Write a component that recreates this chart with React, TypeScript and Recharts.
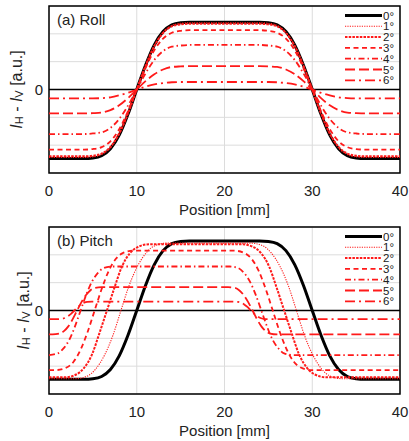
import { LineChart, Line, XAxis, YAxis, CartesianGrid, ReferenceLine, ReferenceArea, Legend } from 'recharts';

const FONT = '"Liberation Sans", Arial, sans-serif';
const RED = '#ff1a1a';

const xTicks = [0, 10, 20, 30, 40];
const yTicks = [-3, -2, -1, 0, 1, 2, 3];
const angles = ['0°', '1°', '2°', '3°', '4°', '5°', '6°'];

// (a) Roll - all angles share the same positions
const rollX = [0, 4, 5, 6, 7, 8, 9, 10, 11, 12, 13, 14, 15, 16, 20, 24, 25, 26, 27, 28, 29, 30, 31, 32, 33, 34, 35, 36, 40];
const roll0 = [-2.48, -2.48, -2.46, -2.38, -2.13, -1.64, -0.89, 0, 0.87, 1.6, 2.08, 2.32, 2.4, 2.42, 2.42, 2.42, 2.4, 2.32, 2.08, 1.6, 0.87, 0, -0.89, -1.64, -2.13, -2.38, -2.46, -2.48, -2.48];
const roll1 = [-2.44, -2.44, -2.42, -2.34, -2.1, -1.61, -0.88, 0, 0.86, 1.58, 2.06, 2.3, 2.38, 2.4, 2.4, 2.4, 2.38, 2.3, 2.06, 1.58, 0.86, 0, -0.88, -1.61, -2.1, -2.34, -2.42, -2.44, -2.44];
const roll2 = [-2.4, -2.4, -2.38, -2.3, -2.06, -1.58, -0.86, 0, 0.85, 1.56, 2.03, 2.27, 2.34, 2.36, 2.36, 2.36, 2.34, 2.27, 2.03, 1.56, 0.85, 0, -0.86, -1.58, -2.06, -2.3, -2.38, -2.4, -2.4];
const roll3 = [-2.16, -2.16, -2.14, -2.07, -1.86, -1.43, -0.78, 0, 0.77, 1.41, 1.83, 2.04, 2.11, 2.13, 2.13, 2.13, 2.11, 2.04, 1.83, 1.41, 0.77, 0, -0.78, -1.43, -1.86, -2.07, -2.14, -2.16, -2.16];
const roll4 = [-1.6, -1.6, -1.58, -1.54, -1.38, -1.06, -0.58, 0, 0.58, 1.06, 1.38, 1.54, 1.58, 1.6, 1.6, 1.6, 1.58, 1.54, 1.38, 1.06, 0.58, 0, -0.58, -1.06, -1.38, -1.54, -1.58, -1.6, -1.6];
const roll5 = [-0.86, -0.86, -0.85, -0.83, -0.74, -0.57, -0.31, 0, 0.3, 0.55, 0.72, 0.81, 0.83, 0.84, 0.84, 0.84, 0.83, 0.81, 0.72, 0.55, 0.3, 0, -0.31, -0.57, -0.74, -0.83, -0.85, -0.86, -0.86];
const roll6 = [-0.32, -0.32, -0.32, -0.31, -0.28, -0.21, -0.12, 0, 0.1, 0.18, 0.23, 0.26, 0.27, 0.27, 0.27, 0.27, 0.27, 0.26, 0.23, 0.18, 0.1, 0, -0.12, -0.21, -0.28, -0.31, -0.32, -0.32, -0.32];

// (b) Pitch - each angle has its own positions
const pitch0X = rollX;
const pitch0Y = [-2.47, -2.47, -2.45, -2.37, -2.12, -1.63, -0.89, 0, 0.9, 1.65, 2.15, 2.4, 2.48, 2.5, 2.5, 2.5, 2.48, 2.4, 2.15, 1.65, 0.9, 0, -0.89, -1.63, -2.12, -2.37, -2.45, -2.47, -2.47];
const pitch1X = [0, 3.0, 4.4, 5.3, 6.3, 7.3, 8.2, 9.1, 10.1, 11.1, 12.0, 13.4, 23.0, 24.4, 25.3, 26.3, 27.3, 28.2, 29.1, 30.1, 31.1, 32.0, 33.4, 40];
const pitch1Y = [-2.45, -2.45, -2.35, -2.11, -1.62, -0.88, 0, 0.87, 1.6, 2.08, 2.32, 2.42, 2.42, 2.32, 2.08, 1.6, 0.87, 0, -0.88, -1.62, -2.11, -2.35, -2.45, -2.45];
const pitch2X = [0, 1.8, 3.1, 4.0, 4.9, 5.7, 6.6, 7.5, 8.3, 9.2, 10.1, 11.4, 22.0, 23.3, 24.2, 25.1, 25.9, 26.8, 27.7, 28.5, 29.4, 30.3, 31.6, 40];
const pitch2Y = [-2.4, -2.4, -2.3, -2.06, -1.58, -0.86, 0, 0.86, 1.57, 2.05, 2.28, 2.38, 2.38, 2.28, 2.05, 1.57, 0.86, 0, -0.86, -1.58, -2.06, -2.3, -2.4, -2.4];
const pitch3X = [0, 0.8, 2.0, 2.8, 3.6, 4.4, 5.2, 6.0, 6.8, 7.6, 8.4, 9.6, 21.1, 22.3, 23.1, 23.9, 24.7, 25.5, 26.3, 27.1, 27.9, 28.7, 29.9, 40];
const pitch3Y = [-2.14, -2.14, -2.05, -1.84, -1.41, -0.77, 0, 0.77, 1.42, 1.85, 2.06, 2.15, 2.15, 2.06, 1.85, 1.42, 0.77, 0, -0.77, -1.41, -1.84, -2.05, -2.14, -2.14];
const pitch4X = [0, 1.0, 1.6, 2.3, 2.95, 3.6, 4.25, 4.9, 5.6, 6.2, 7.2, 20.6, 21.6, 22.2, 22.9, 23.55, 24.2, 24.85, 25.5, 26.2, 26.8, 27.8, 40];
const pitch4Y = [-1.6, -1.54, -1.38, -1.06, -0.58, 0, 0.57, 1.04, 1.36, 1.52, 1.58, 1.58, 1.52, 1.36, 1.04, 0.57, 0, -0.58, -1.06, -1.38, -1.54, -1.6, -1.6];
const pitch5X = [0, 0.4, 1.2, 1.7, 2.2, 2.7, 3.2, 3.7, 4.2, 4.7, 5.2, 6.0, 20.4, 21.2, 21.7, 22.2, 22.7, 23.2, 23.7, 24.2, 24.7, 25.2, 26.0, 40];
const pitch5Y = [-0.86, -0.86, -0.83, -0.74, -0.57, -0.31, 0, 0.3, 0.55, 0.72, 0.81, 0.84, 0.84, 0.81, 0.72, 0.55, 0.3, 0, -0.31, -0.57, -0.74, -0.83, -0.86, -0.86];
const pitch6X = [0, 0.9, 1.44, 1.8, 2.18, 2.54, 2.9, 3.26, 3.62, 4.0, 4.36, 4.9, 21.0, 21.54, 21.9, 22.28, 22.64, 23.0, 23.36, 23.72, 24.1, 24.46, 25.0, 40];
const pitch6Y = [-0.31, -0.31, -0.3, -0.27, -0.2, -0.11, 0, 0.12, 0.21, 0.28, 0.31, 0.32, 0.32, 0.31, 0.28, 0.21, 0.12, 0, -0.11, -0.2, -0.27, -0.3, -0.31, -0.31];

const styles = [
  { stroke: '#000', width: 3, dash: undefined },
  { stroke: RED, width: 1.1, dash: '1.2 1.2' },
  { stroke: RED, width: 2, dash: '2.5 1.2' },
  { stroke: RED, width: 1.8, dash: '5 3.5' },
  { stroke: RED, width: 1.8, dash: '6 3 1.5 3' },
  { stroke: RED, width: 1.8, dash: '10 4' },
  { stroke: RED, width: 1.8, dash: '10 4 2 4' },
];

const rollRows = rollX.map((x, i) => ({
  x,
  a0: roll0[i], a1: roll1[i], a2: roll2[i], a3: roll3[i], a4: roll4[i], a5: roll5[i], a6: roll6[i],
}));

const zip = (xs: number[], ys: number[]) => xs.map((x, i) => ({ x, y: ys[i] }));
const pitchSeries = [
  zip(pitch0X, pitch0Y), zip(pitch1X, pitch1Y), zip(pitch2X, pitch2Y), zip(pitch3X, pitch3Y),
  zip(pitch4X, pitch4Y), zip(pitch5X, pitch5Y), zip(pitch6X, pitch6Y),
];

function YLabel(props: any) {
  const { viewBox, cx } = props;
  const cy = viewBox.y + viewBox.height / 2;
  return (
    <text x={cx} y={cy} transform={`rotate(-90 ${cx} ${cy})`} textAnchor="middle" dominantBaseline="central"
      fontSize={16} fontFamily={FONT} fill="#222">
      <tspan fontStyle="italic">I</tspan>
      <tspan fontSize={11} dy={3}>H</tspan>
      <tspan dy={-3}> - </tspan>
      <tspan fontStyle="italic">I</tspan>
      <tspan fontSize={11} dy={3}>V</tspan>
      <tspan dy={-3}> [a.u.]</tspan>
    </text>
  );
}

function XLabel(props: any) {
  const { viewBox } = props;
  return (
    <text x={viewBox.x + viewBox.width / 2} y={viewBox.y + 42} textAnchor="middle" fontSize={15} fontFamily={FONT} fill="#222">
      Position [mm]
    </text>
  );
}

function PanelTitle(props: any) {
  const { viewBox, text } = props;
  return (
    <text x={viewBox.x + 8} y={viewBox.y + 19} fontSize={15} fontFamily={FONT} fill="#222">{text}</text>
  );
}

function AngleLegend() {
  return (
    <svg width={62} height={80} style={{ display: 'block' }}>
      {angles.map((a, i) => {
        const y = 6.5 + i * 10.8;
        const s = styles[i];
        return (
          <g key={a}>
            <line x1={4} x2={41} y1={y} y2={y} stroke={s.stroke} strokeWidth={s.width} strokeDasharray={s.dash} />
            <text x={42} y={y + 4} fontSize={11.5} fontFamily={FONT} fill="#222">{a}</text>
          </g>
        );
      })}
    </svg>
  );
}

function Panel({ title, labelX, children, rows }: any) {
  return (
    <LineChart width={409} height={220} data={rows} margin={{ top: 6, right: 9, left: 0, bottom: 0 }}>
      <CartesianGrid stroke="#dcdcdc" strokeWidth={1} />
      <XAxis type="number" dataKey="x" domain={[0, 40]} ticks={xTicks} allowDataOverflow tickLine={false} axisLine={false}
        height={47} tickMargin={6} tick={{ fontSize: 15, fontFamily: FONT, fill: '#222' }} label={<XLabel />} />
      <YAxis type="number" domain={[-3, 3]} ticks={yTicks} allowDataOverflow width={49} tickLine={false} axisLine={false}
        tickSize={0} tickMargin={6} tickFormatter={(v: number) => (v === 0 ? '0' : '')}
        tick={{ fontSize: 15, fontFamily: FONT, fill: '#222' }} label={<YLabel cx={labelX} />} />
      <ReferenceLine y={0} stroke="#000" strokeWidth={1.5} />
      {children}
      <ReferenceArea x1={0} x2={40} y1={-3} y2={3} fill="none" stroke="#000" strokeWidth={1.5}
        label={<PanelTitle text={title} />} />
      <Legend verticalAlign="middle" layout="horizontal" content={() => <AngleLegend />}
        wrapperStyle={{ position: 'absolute', left: 341, top: 9, width: 62 }} />
    </LineChart>
  );
}

export default function App() {
  return (
    <div style={{ position: 'absolute', left: 0, top: 0, width: 409, height: 441, background: '#fff' }}>
      <Panel title="(a) Roll" labelX={16} rows={rollRows}>
        {angles.map((a, i) => (
          <Line key={a} dataKey={`a${i}`} type="monotone" dot={false} stroke={styles[i].stroke}
            strokeWidth={styles[i].width} strokeDasharray={styles[i].dash} isAnimationActive={false} />
        ))}
      </Panel>
      <div style={{ position: 'absolute', left: 0, top: 221 }}>
        <Panel title="(b) Pitch" labelX={23}>
          {angles.map((a, i) => (
            <Line key={a} data={pitchSeries[i]} dataKey="y" type="monotone" dot={false} stroke={styles[i].stroke}
              strokeWidth={styles[i].width} strokeDasharray={styles[i].dash} isAnimationActive={false} />
          ))}
        </Panel>
      </div>
    </div>
  );
}
